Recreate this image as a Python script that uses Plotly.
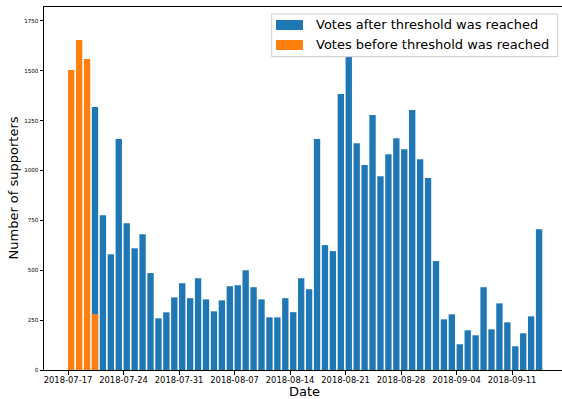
import pandas as pd
import plotly.graph_objects as go

# Daily supporter counts
before_dates = ["2018-07-17", "2018-07-18", "2018-07-19", "2018-07-20"]
before_votes = [1504, 1654, 1559, 280]

after_start = "2018-07-20"
after_votes = [
    # July 20-31
    1318, 776, 580, 1158, 736, 610, 680, 486, 259, 289, 364, 435,
    # August
    360, 460, 354, 294, 349, 420, 425, 500, 415, 354,
    264, 264, 360, 290, 460, 405, 1158, 626, 596, 1384,
    1733, 1137, 1027, 1278, 971, 1081, 1162, 1106, 1303, 1056, 962,
    # September 1-14
    546, 254, 279, 129, 199, 174, 415, 204, 334, 239, 119, 184, 269, 706,
]
after_dates = pd.date_range(after_start, periods=len(after_votes), freq="D")

y_ticks = [0, 250, 500, 750, 1000, 1250, 1500, 1750]
x_ticks = pd.date_range("2018-07-17", "2018-09-11", freq="7D")

series_names = ["Votes after threshold was reached", "Votes before threshold was reached"]
x_title = "Date"
y_title = "Number of supporters"
BLUE = "#1f77b4"
ORANGE = "#ff7f0e"

W, H = 562, 399
ML, MR, MT, MB = 44, 0, 7, 29
DAY_MS = 86400000
BAR_W = 0.8 * DAY_MS

fig = go.Figure()
fig.add_trace(go.Bar(
    x=after_dates, y=after_votes, name=series_names[0],
    marker=dict(color=BLUE, line=dict(width=0)),
    width=BAR_W, offset=0, showlegend=False,
))
fig.add_trace(go.Bar(
    x=pd.to_datetime(before_dates), y=before_votes, name=series_names[1],
    marker=dict(color=ORANGE, line=dict(width=0)),
    width=BAR_W, offset=0, showlegend=False,
))

y_top = max(max(after_votes), max(before_votes)) * 1.05

# Helpers: pixel position -> paper coordinates
pw, ph = W - ML - MR, H - MT - MB


def px(x):
    return (x - ML) / pw


def py(y):
    return (H - MB - y) / ph


# Legend box drawn as shapes plus text
shapes = [
    dict(type="rect", xref="paper", yref="paper", layer="above",
         x0=px(271.7), x1=px(557.7), y0=py(56.7), y1=py(14),
         fillcolor="white", line=dict(color="#cccccc", width=1)),
    dict(type="rect", xref="paper", yref="paper", layer="above",
         x0=px(276), x1=px(303), y0=py(30), y1=py(20),
         fillcolor=BLUE, line=dict(width=0)),
    dict(type="rect", xref="paper", yref="paper", layer="above",
         x0=px(276), x1=px(303), y0=py(50), y1=py(40),
         fillcolor=ORANGE, line=dict(width=0)),
]
annotations = [
    dict(xref="paper", yref="paper", x=px(313.5), y=py(25), text=series_names[0],
         showarrow=False, xanchor="left", yanchor="middle",
         font=dict(size=13, color="black")),
    dict(xref="paper", yref="paper", x=px(313.5), y=py(45), text=series_names[1],
         showarrow=False, xanchor="left", yanchor="middle",
         font=dict(size=13, color="black")),
    # axis titles
    dict(xref="paper", yref="paper", x=px(304.8), y=py(391), text=x_title,
         showarrow=False, xanchor="center", yanchor="middle",
         font=dict(size=13, color="black")),
    dict(xref="paper", yref="paper", x=px(13), y=py(188.5), text=y_title,
         showarrow=False, xanchor="center", yanchor="middle", textangle=-90,
         font=dict(size=13, color="black")),
]

fig.update_layout(
    width=W, height=H,
    margin=dict(l=ML, r=MR, t=MT, b=MB, pad=0),
    paper_bgcolor="white", plot_bgcolor="white",
    barmode="overlay",
    font=dict(family="DejaVu Sans", color="black"),
    shapes=shapes, annotations=annotations,
    hovermode=False,
)
fig.update_xaxes(
    type="date",
    range=["2018-07-13 23:17", "2018-09-17 07:00"],
    tickvals=x_ticks, tickformat="%Y-%m-%d",
    tickfont=dict(size=8.4, color="black"),
    ticks="outside", ticklen=3.5, tickwidth=0.8, tickcolor="black",
    ticklabelstandoff=-2,
    showline=True, linecolor="black", linewidth=1, mirror=True,
    showgrid=False, zeroline=False,
    automargin=False,
)
fig.update_yaxes(
    range=[0, y_top],
    tickvals=y_ticks,
    tickfont=dict(size=5.6, color="black"),
    ticks="outside", ticklen=3.5, tickwidth=0.8, tickcolor="black",
    showline=True, linecolor="black", linewidth=1,
    showgrid=False, zeroline=False,
    automargin=False,
)

fig.write_html("out.html")
